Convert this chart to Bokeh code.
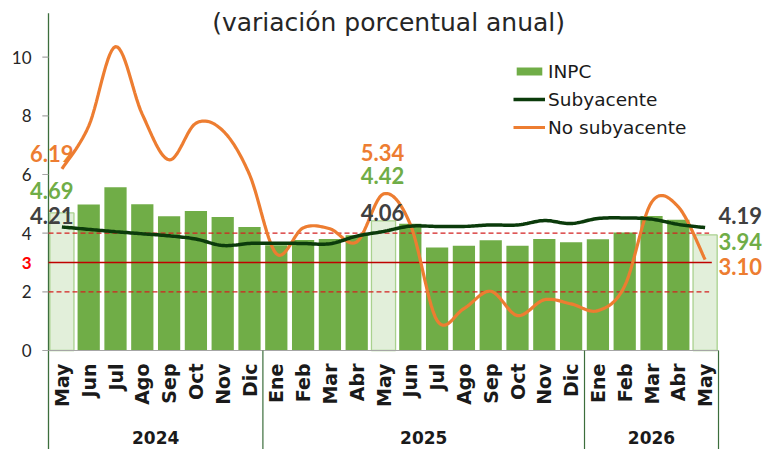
import numpy as np
from bokeh.plotting import figure
from bokeh.models import Range1d, Legend, LegendItem
from bokeh.core.properties import value
from bokeh.embed import file_html
from bokeh.resources import INLINE

# ---------------- data ----------------
months = ["May", "Jun", "Jul", "Ago", "Sep", "Oct", "Nov", "Dic",
          "Ene", "Feb", "Mar", "Abr", "May", "Jun", "Jul", "Ago", "Sep", "Oct", "Nov", "Dic",
          "Ene", "Feb", "Mar", "Abr", "May"]
years = ["2024"] * 8 + ["2025"] * 12 + ["2026"] * 5
year_labels = ["2024", "2025", "2026"]

inpc = [4.69, 4.98, 5.57, 4.99, 4.58, 4.76, 4.55, 4.21,
        3.59, 3.77, 3.80, 3.93, 4.42, 4.32, 3.51, 3.57, 3.76, 3.57, 3.80, 3.69,
        3.79, 4.02, 4.59, 4.46, 3.94]
subyacente = [4.21, 4.13, 4.05, 3.98, 3.91, 3.80, 3.58, 3.65,
              3.66, 3.65, 3.64, 3.90, 4.06, 4.24, 4.23, 4.23, 4.28, 4.28, 4.43, 4.33,
              4.50, 4.52, 4.48, 4.30, 4.19]
no_subyacente = [6.19, 7.65, 10.36, 8.05, 6.50, 7.75, 7.50, 6.00,
                 3.30, 4.18, 4.15, 3.70, 5.34, 4.30, 1.02, 1.43, 2.02, 1.19, 1.73, 1.59,
                 1.36, 2.20, 5.05, 4.90, 3.10]
meta = 3
banda = [2, 4]
y_ticks = [0, 2, 4, 6, 8, 10]

# ---------------- styling ----------------
GREEN = "#70AD47"
LIGHT = "#E2EFDA"
LIGHT_LINE = "#A9D18E"
DARK = "#0B3B0B"
ORANGE = "#ED7D31"
GRAY_TXT = "#404040"
AXIS_GREEN = "#3C6E3C"
WORD_FONT = "DejaVu Sans"
NUM_FONT = "Lato"

n = len(months)
xs = np.arange(n)
hl = [m == "May" for m in months]
X0, X1 = -2.291, 26.328
Y0, Y1 = -3.375, 11.933
AX_X = -0.5
AX_TOP = 11.5

def smooth(x, y, k=14):
    x = np.asarray(x, float); y = np.asarray(y, float)
    P = np.column_stack([x, y])
    P = np.vstack([P[0], P, P[-1]])
    out = []
    t = np.linspace(0, 1, k, endpoint=False)[:, None]
    for i in range(1, len(P) - 2):
        p0, p1, p2, p3 = P[i - 1], P[i], P[i + 1], P[i + 2]
        seg = 0.5 * ((2 * p1) + (-p0 + p2) * t + (2 * p0 - 5 * p1 + 4 * p2 - p3) * t ** 2
                     + (-p0 + 3 * p1 - 3 * p2 + p3) * t ** 3)
        out.append(seg)
    out.append(P[-2][None, :])
    S = np.vstack(out)
    return S[:, 0], S[:, 1]

p = figure(width=767, height=449, output_backend="svg", toolbar_location=None,
           x_range=Range1d(X0, X1), y_range=Range1d(Y0, Y1),
           x_axis_location=None, y_axis_location=None,
           min_border_left=0, min_border_right=0, min_border_top=0, min_border_bottom=0)
p.outline_line_color = None
p.grid.visible = False
p.background_fill_color = "white"
p.border_fill_color = "white"

# bars
normal = [i for i in range(n) if not hl[i]]
light = [i for i in range(n) if hl[i]]
bars = p.vbar(x=[xs[i] for i in normal], top=[inpc[i] for i in normal], width=0.83,
              fill_color=GREEN, line_color=None)
p.vbar(x=[xs[i] for i in light], top=[inpc[i] for i in light], width=0.9,
       fill_color=LIGHT, line_color=LIGHT_LINE, line_width=1.3)

# y axis (drawn)
p.segment(x0=[AX_X], y0=[Y0], x1=[AX_X], y1=[AX_TOP], line_color=AXIS_GREEN, line_width=1.3)
p.segment(x0=[AX_X - 0.23] * len(y_ticks), y0=y_ticks, x1=[AX_X] * len(y_ticks), y1=y_ticks,
          line_color="#A6A6A6", line_width=1.2)
p.text(x=[AX_X - 0.634] * len(y_ticks), y=y_ticks, text=[str(t) for t in y_ticks],
       text_align="right", text_baseline="middle", text_font=value(NUM_FONT),
       text_font_size="17px", text_color="#262626")
p.text(x=[AX_X - 0.634], y=[meta], text=[str(meta)], text_align="right",
       text_baseline="middle", text_font=value(NUM_FONT), text_font_style="bold",
       text_font_size="17px", text_color="#FF0000")

# baseline
p.segment(x0=[AX_X], y0=[0], x1=[n - 0.5], y1=[0], line_color="#A6A6A6", line_width=1.2)

# target lines
p.segment(x0=[AX_X, AX_X], y0=banda, x1=[n - 0.85, n - 0.85], y1=banda,
          line_color="#D42020", line_width=1.3, line_dash="5 3")
p.segment(x0=[AX_X], y0=[meta], x1=[n - 0.75], y1=[meta], line_color="#C00000", line_width=1.5)

# lines
sx, sy = smooth(xs, no_subyacente)
l_no = p.line(sx, sy, line_color=ORANGE, line_width=3.2)
cx, cy = smooth(xs, subyacente)
l_sub = p.line(cx, cy, line_color=DARK, line_width=3.5)

# month labels
p.text(x=xs, y=[-0.443] * n, text=months, angle=np.pi / 2, text_align="right",
       text_baseline="middle", text_font=value(WORD_FONT), text_font_style="bold",
       text_font_size="19px", text_color="#1A1A1A")

# year groups
centers = []
bounds = []
for yl in year_labels:
    idx = [i for i in range(n) if years[i] == yl]
    centers.append((idx[0] + idx[-1]) / 2)
    bounds.append(idx[-1] + 0.5)
p.text(x=centers, y=[-2.966] * 3, text=year_labels, text_align="center",
       text_baseline="middle", text_font=value(WORD_FONT), text_font_style="bold",
       text_font_size="17px", text_color="#1A1A1A")
p.segment(x0=bounds, y0=[0] * 3, x1=bounds, y1=[Y0] * 3, line_color=AXIS_GREEN, line_width=1.2)

# title
p.text(x=[12.19], y=[11.18], text=["(variación porcentual anual)"], text_align="center",
       text_baseline="middle", text_font=value(WORD_FONT), text_font_size="25px",
       text_color="#262626")

# value labels
def lab(x, y, v, color, align):
    p.text(x=[x], y=[y], text=[f"{v:.2f}"], text_align=align, text_baseline="middle",
           text_font=value(NUM_FONT), text_font_style="bold", text_font_size="22px",
           text_color=color)

lab(0.43, 6.72, no_subyacente[0], ORANGE, "right")
lab(0.43, 5.46, inpc[0], GREEN, "right")
lab(0.43, 4.60, subyacente[0], GRAY_TXT, "right")
lab(11.96, 6.75, no_subyacente[12], ORANGE, "center")
lab(11.96, 5.97, inpc[12], GREEN, "center")
lab(11.96, 4.71, subyacente[12], GRAY_TXT, "center")
lab(24.5, 4.60, subyacente[24], GRAY_TXT, "left")
lab(24.5, 3.72, inpc[24], GREEN, "left")
lab(24.5, 2.86, no_subyacente[24], ORANGE, "left")

legend = Legend(items=[LegendItem(label="INPC", renderers=[bars]),
                       LegendItem(label="Subyacente", renderers=[l_sub]),
                       LegendItem(label="No subyacente", renderers=[l_no])],
                location=(513, 311), orientation="vertical",
                glyph_width=32, glyph_height=10, label_height=22, spacing=6,
                padding=0, margin=0, label_standoff=3,
                label_text_font=WORD_FONT, label_text_font_size="18.5px",
                label_text_color="#1A1A1A", border_line_color=None,
                background_fill_alpha=0)
p.add_layout(legend)

open("out.html", "w").write(file_html(p, INLINE))
